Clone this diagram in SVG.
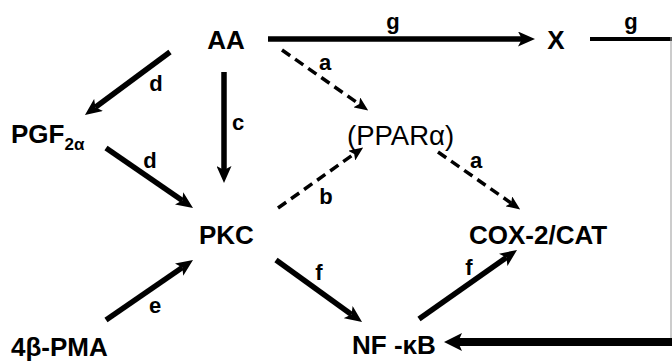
<svg xmlns="http://www.w3.org/2000/svg" width="672" height="362" viewBox="0 0 672 362">
<style>
.n{font-family:"Liberation Sans",Arial,sans-serif;font-weight:bold;font-size:26px;fill:#000}
.r{font-family:"Liberation Sans",Arial,sans-serif;font-size:27.5px;fill:#000}
.l{font-family:"Liberation Sans",Arial,sans-serif;font-weight:bold;font-size:22px;fill:#000;text-anchor:middle}
.s{stroke:#000;stroke-width:5.5;fill:none}
.d{stroke:#000;stroke-width:3.5;fill:none;stroke-dasharray:10 6}
</style>
<defs>
<marker id="ah" markerUnits="userSpaceOnUse" markerWidth="17" markerHeight="15" refX="4" refY="7.5" orient="auto"><path d="M0,0 L17,7.5 L0,15 L4,7.5 z" fill="#000"/></marker>
<marker id="ahd" markerUnits="userSpaceOnUse" markerWidth="14" markerHeight="12" refX="3" refY="6" orient="auto"><path d="M0,0 L14,6 L0,12 L3,6 z" fill="#000"/></marker>
<marker id="ahb" markerUnits="userSpaceOnUse" markerWidth="18" markerHeight="18" refX="4" refY="9" orient="auto"><path d="M0,0 L18,9 L0,18 L4,9 z" fill="#000"/></marker>
</defs>
<g id="connectors">
<line class="s" x1="170" y1="52" x2="95.4" y2="107.3" marker-end="url(#ah)"/>
<line class="s" x1="224" y1="72" x2="224" y2="170" marker-end="url(#ah)"/>
<line class="s" x1="106" y1="148" x2="182.3" y2="200.6" marker-end="url(#ah)"/>
<line class="s" x1="106" y1="320" x2="182.3" y2="267.4" marker-end="url(#ah)"/>
<line class="s" x1="276" y1="260" x2="351.5" y2="314.4" marker-end="url(#ah)"/>
<line class="s" x1="419" y1="319" x2="506.4" y2="257.5" marker-end="url(#ah)"/>
<line class="s" x1="268" y1="39" x2="522" y2="39" marker-end="url(#ah)"/>
<line class="d" x1="282" y1="50" x2="359.2" y2="104.1" marker-end="url(#ahd)"/>
<line class="d" x1="278" y1="208" x2="354.2" y2="153.9" marker-end="url(#ahd)"/>
<line class="d" x1="438" y1="152" x2="511.2" y2="203.1" marker-end="url(#ahd)"/>
<line x1="590" y1="39" x2="672" y2="39" stroke="#000" stroke-width="4"/>
<line x1="671" y1="37" x2="671" y2="338" stroke="#999" stroke-width="1"/>
<line x1="672" y1="342" x2="458" y2="342" stroke="#000" stroke-width="8" marker-end="url(#ahb)"/>
<text class="l" x="156" y="91">d</text>
<text class="l" x="238" y="130">c</text>
<text class="l" x="325" y="70">a</text>
<text class="l" x="150" y="168">d</text>
<text class="l" x="326" y="204">b</text>
<text class="l" x="476" y="168">a</text>
<text class="l" x="155" y="313">e</text>
<text class="l" x="319" y="280">f</text>
<text class="l" x="469" y="275">f</text>
<text class="l" x="393" y="29">g</text>
<text class="l" x="631" y="29">g</text>
</g>
<g id="AA"><text class="n" x="226" y="49" text-anchor="middle">AA</text></g>
<g id="X"><text class="n" x="556" y="49" text-anchor="middle">X</text></g>
<g id="PGF2a"><text class="n" x="11" y="143" font-size="24">PGF<tspan font-size="17" dy="7">2α</tspan></text></g>
<g id="PPARa"><text class="r" x="347" y="145">(PPARα)</text></g>
<g id="PKC"><text class="n" x="199" y="244">PKC</text></g>
<g id="COX2CAT"><text class="n" x="469" y="244">COX-2/CAT</text></g>
<g id="PMA"><text class="n" x="11" y="356">4β-PMA</text></g>
<g id="NFkB"><text class="n" x="352" y="354">NF -κB</text></g>
</svg>
